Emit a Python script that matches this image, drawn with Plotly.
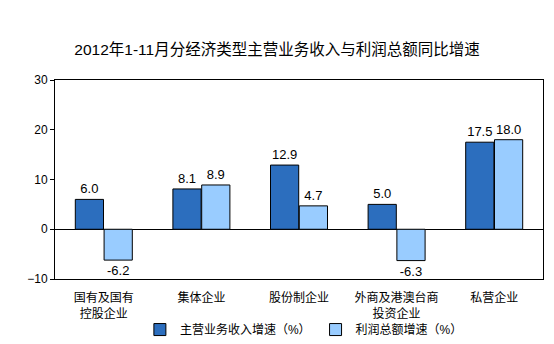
import plotly.graph_objects as go

categories = ["国有及国有<br>控股企业", "集体企业", "股份制企业", "外商及港澳台商<br>投资企业", "私营企业"]
revenue_growth = [6.0, 8.1, 12.9, 5.0, 17.5]
profit_growth = [-6.2, 8.9, 4.7, -6.3, 18.0]
y_ticks = [-10, 0, 10, 20, 30]

FONT = "Liberation Sans, Arial, Noto Sans CJK SC, sans-serif"

fig = go.Figure()
fig.add_trace(go.Bar(
    x=categories, y=revenue_growth, name="主营业务收入增速（%）",
    marker=dict(color="#2C6EBE", line=dict(color="#000000", width=1)),
    text=[f"{v:.1f}" for v in revenue_growth], textposition="outside",
    textfont=dict(size=13, color="#000000", family=FONT), cliponaxis=False,
))
fig.add_trace(go.Bar(
    x=categories, y=profit_growth, name="利润总额增速（%）",
    marker=dict(color="#99CCFF", line=dict(color="#000000", width=1)),
    text=[f"{v:.1f}" for v in profit_growth], textposition="outside",
    textfont=dict(size=13, color="#000000", family=FONT), cliponaxis=False,
))

fig.update_layout(
    width=554, height=344,
    margin=dict(l=55, r=11, t=80, b=65, autoexpand=False),
    paper_bgcolor="white", plot_bgcolor="white",
    font=dict(family=FONT, size=12, color="#000000"),
    title=dict(text="2012年1-11月分经济类型主营业务收入与利润总额同比增速",
               x=0.5, xanchor="center", y=0.855, yanchor="middle",
               font=dict(size=15.5, color="#000000", family=FONT)),
    barmode="group", bargap=0.41, bargroupgap=0.02,
    showlegend=True,
    legend=dict(orientation="h", x=0.51, xanchor="center", yref="container",
                y=0.042, yanchor="middle",
                font=dict(size=12), itemwidth=30, tracegroupgap=0,
                bgcolor="rgba(0,0,0,0)"),
)
fig.update_xaxes(showline=True, linecolor="#000000", linewidth=1, mirror=True,
                 ticks="", showgrid=False, tickfont=dict(size=12), ticklabelstandoff=8)
fig.update_yaxes(range=[-10, 30], tickvals=y_ticks, showline=True, linecolor="#000000",
                 linewidth=1, mirror=True, ticks="outside", ticklen=4, tickcolor="#000000",
                 showgrid=False, zeroline=True, zerolinecolor="#000000", zerolinewidth=1,
                 tickfont=dict(size=12))

fig.write_html("out.html")
